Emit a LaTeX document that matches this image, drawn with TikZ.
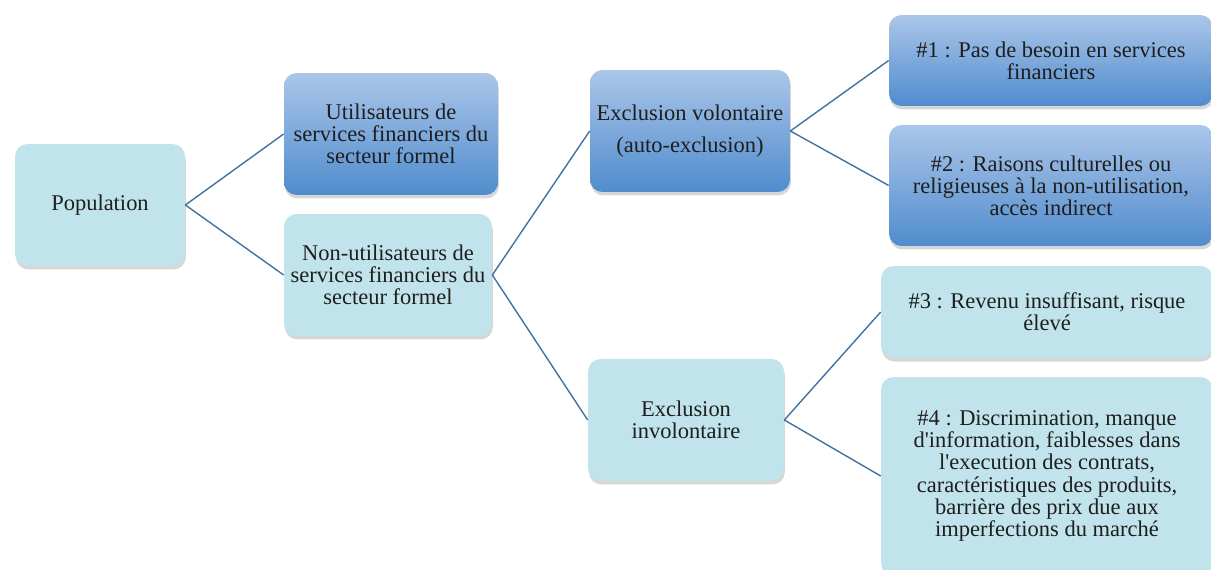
\documentclass[tikz,border=0pt]{standalone}
\usepackage{fontspec}
\setmainfont{Liberation Serif}
\usetikzlibrary{shadows, positioning}

\definecolor{paleteal}{RGB}{193,228,236}
\definecolor{bluetop}{RGB}{171,198,233}
\definecolor{bluebot}{RGB}{80,140,205}
\definecolor{linkblue}{RGB}{66,114,162}
\definecolor{textgray}{RGB}{30,30,30}

\begin{document}
\begin{tikzpicture}[x=0.02cm, y=-0.02cm,
    box/.style={rounded corners=0.25cm, align=center, text=textgray, inner sep=2pt,
        font=\fontsize{12.8}{12.6}\selectfont,
        drop shadow={shadow xshift=0.5pt, shadow yshift=-2pt, opacity=0.35, fill=black!45}},
    palebox/.style={box, fill=paleteal},
    bluebox/.style={box, top color=bluetop, bottom color=bluebot},
    link/.style={draw=linkblue, line width=0.8pt}]
            % Limits of the drawing
            \useasboundingbox (0,0) rectangle (1211,570);

            % Draw boxes
            \node[palebox, minimum width=3.4cm, minimum height=2.44cm] (pop) at (100,205) {\raisebox{-3pt}{Population}};
            \node[bluebox, minimum width=4.28cm, minimum height=2.44cm] (util) at (391,134)
                {Utilisateurs de\\services financiers du\\secteur formel};
            \node[palebox, minimum width=4.16cm, minimum height=2.44cm] (nonutil) at (388,275)
                {Non-utilisateurs de\\services financiers du\\secteur formel};

            \node[bluebox, minimum width=4.0cm, minimum height=2.44cm] (vol) at (690,131)
                {Exclusion volontaire\\[5.5pt](auto-exclusion)};
            \node[palebox, minimum width=3.92cm, minimum height=2.44cm] (invol) at (686,420)
                {Exclusion\\involontaire};

            \node[bluebox, minimum width=6.48cm, minimum height=1.82cm] (r1) at (1051,60.5)
                {\#1 : Pas de besoin en services\\financiers};
            \node[bluebox, minimum width=6.48cm, minimum height=2.42cm] (r2) at (1051,185.5)
                {\#2 : Raisons culturelles ou\\religieuses à la non-utilisation,\\accès indirect};
            \node[palebox, minimum width=6.64cm, minimum height=1.84cm] (r3) at (1047,312)
                {\#3 : Revenu insuffisant, risque\\élevé};
            \node[palebox, minimum width=6.64cm, minimum height=3.96cm] (r4) at (1047,476)
                {\#4 : Discrimination, manque\\d\textquotesingle information, faiblesses dans\\l\textquotesingle execution des contrats,\\caractéristiques des produits,\\barrière des prix due aux\\imperfections du marché};

            % Draw links
            \draw[link] (pop.east) -- (util.west);
            \draw[link] (pop.east) -- (nonutil.west);
            \draw[link] (nonutil.east) -- (vol.west);
            \draw[link] (nonutil.east) -- (invol.west);
            \draw[link] (vol.east) -- (r1.west);
            \draw[link] (vol.east) -- (r2.west);
            \draw[link] (invol.east) -- (r3.west);
            \draw[link] (invol.east) -- (r4.west);
        \end{tikzpicture}
\end{document}
